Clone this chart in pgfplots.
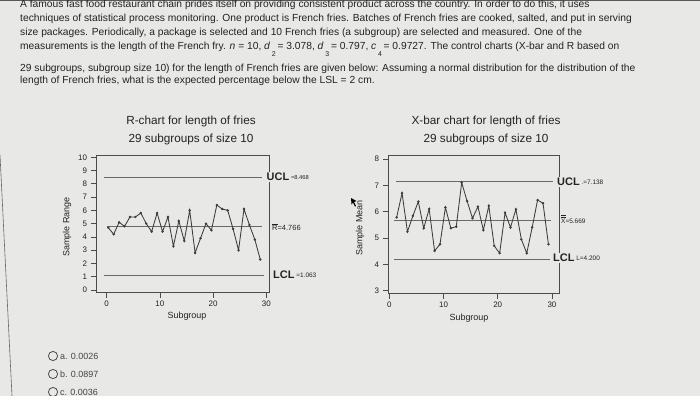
\documentclass[border=0pt]{standalone}
\usepackage{fontspec}
\setmainfont{Liberation Sans}
\usepackage{pgfplots}
\usepackage{pgfplotstable}
\pgfplotsset{compat=1.18}
\definecolor{bg}{RGB}{232,232,230}
\definecolor{txt}{RGB}{35,35,35}
\definecolor{dat}{RGB}{60,60,60}
\definecolor{ctl}{RGB}{105,105,105}
\definecolor{frm}{RGB}{75,75,75}

\pgfplotstableread{
x y
0.30 4.7
1.32 4.2
2.34 5.1
3.36 4.8
4.38 5.5
5.40 5.5
6.42 5.8
7.44 5.0
8.46 4.4
9.48 5.8
10.50 4.4
11.52 5.5
12.54 3.3
13.56 5.2
14.58 3.7
15.60 6.0
16.62 2.8
17.64 3.9
18.66 5.0
19.68 4.5
20.70 6.4
21.72 6.1
22.74 6.0
23.76 4.6
24.78 3.0
25.80 6.1
26.82 4.9
27.84 3.8
28.86 2.3
}\rdata

\pgfplotstableread{
x y
1.35 5.78
2.35 6.70
3.35 5.24
4.35 5.84
5.35 6.38
6.35 5.37
7.35 6.10
8.35 4.51
9.35 4.76
10.35 6.16
11.35 5.37
12.35 5.43
13.35 7.10
14.35 6.40
15.35 5.75
16.35 6.19
17.35 5.30
18.35 6.22
19.35 4.70
20.35 4.42
21.35 5.96
22.35 5.40
23.35 6.09
24.35 4.95
25.35 4.42
26.35 5.40
27.35 6.44
28.35 6.32
29.35 4.76
}\xdata

\pgfplotsset{
  ccstyle/.style={
    scale only axis, anchor=south west, clip=false,
    axis line style={frm, line width=0.7bp},
    every tick/.style={frm, line width=0.7bp},
    tick align=outside, tick pos=left, major tick length=5.5bp,
    ticklabel style={font=\fontsize{8}{9}\selectfont, text=txt},
    /pgf/number format/assume math mode=true,
    xtick={0,10,20,30},
  }
}

\newcommand{\para}[2]{\node[anchor=base west, inner sep=0pt, text=txt, font=\fontsize{10.3}{12}\selectfont] at (20bp,-#1bp) {#2};}

\begin{document}
\begin{tikzpicture}
\useasboundingbox (0,0) rectangle (700bp,-396bp);
\clip (0,0) rectangle (700bp,-396bp);
\fill[bg] (0,0) rectangle (700bp,-396bp);
\draw[gray!70!black, line width=0.8bp] (0,-0.4bp) -- (700bp,-0.4bp);
\draw[gray!80!black, line width=0.6bp] (0,-155bp) -- (12bp,-396bp);

% question text
\para{7.5}{A famous fast food restaurant chain prides itself on providing consistent product across the country. In order to do this, it uses}
\para{21.5}{techniques of statistical process monitoring. One product is French fries. Batches of French fries are cooked, salted, and put in serving}
\para{35}{size packages. Periodically, a package is selected and 10 French fries (a subgroup) are selected and measured. One of the}
\para{49.3}{measurements is the length of the French fry. \textit{n} = 10, \textit{d}\,\raisebox{-7.5bp}{\fontsize{7}{7}\selectfont 2}\,= 3.078, \textit{d}\,\raisebox{-7.5bp}{\fontsize{7}{7}\selectfont 3}\,= 0.797, \textit{c}\,\raisebox{-7.5bp}{\fontsize{7}{7}\selectfont 4}\,= 0.9727. The control charts (X-bar and R based on}
\para{71.5}{29 subgroups, subgroup size 10) for the length of French fries are given below: Assuming a normal distribution for the distribution of the}
\para{83.5}{length of French fries, what is the expected percentage below the LSL = 2 cm.}

% titles
\node[text=txt, font=\fontsize{11.8}{13}\selectfont, inner sep=0pt] at (191bp,-121bp) {R-chart for length of fries};
\node[text=txt, font=\fontsize{11.8}{13}\selectfont, inner sep=0pt] at (191bp,-139bp) {29 subgroups of size 10};
\node[text=txt, font=\fontsize{11.8}{13}\selectfont, inner sep=0pt] at (486bp,-121bp) {X-bar chart for length of fries};
\node[text=txt, font=\fontsize{11.8}{13}\selectfont, inner sep=0pt] at (486bp,-139bp) {29 subgroups of size 10};

% R chart
\begin{axis}[ccstyle, at={(96bp,-292bp)}, width=173bp, height=137bp,
  xmin=-2, xmax=30.5, ymin=-0.15, ymax=10.17, ytick={0,1,...,10}]
\addplot[ctl, line width=0.9bp] coordinates {(-0.5,8.468) (29.2,8.468)};
\addplot[ctl, line width=0.9bp] coordinates {(0.1,4.766) (29.2,4.766)};
\addplot[ctl, line width=0.9bp] coordinates {(-0.5,1.063) (29.6,1.063)};
\addplot[dat, line width=0.85bp, mark=*, mark size=0.75bp, mark options={fill=dat}] table {\rdata};
\end{axis}

% X-bar chart
\begin{axis}[ccstyle, at={(388bp,-293bp)}, width=171bp, height=138bp,
  xmin=-0.24, xmax=31.3, ymin=2.91, ymax=8.15, ytick={3,4,...,8}]
\addplot[ctl, line width=0.9bp] coordinates {(1.2,7.138) (30.2,7.138)};
\addplot[ctl, line width=0.9bp] coordinates {(0.9,5.669) (29.9,5.669)};
\addplot[ctl, line width=0.9bp] coordinates {(0.9,4.200) (29.6,4.200)};
\addplot[dat, line width=0.85bp, mark=*, mark size=0.75bp, mark options={fill=dat}] table {\xdata};
\end{axis}

% axis labels
\node[text=txt, font=\fontsize{9}{10}\selectfont, inner sep=0pt] at (187bp,-316bp) {Subgroup};
\node[text=txt, font=\fontsize{9}{10}\selectfont, inner sep=0pt] at (469bp,-318bp) {Subgroup};
\node[text=txt, font=\fontsize{9}{10}\selectfont, inner sep=0pt, rotate=90] at (67bp,-227bp) {Sample Range};
\node[text=txt, font=\fontsize{9}{10}\selectfont, inner sep=0pt, rotate=90] at (360bp,-228bp) {Sample Mean};

% control limit labels
\node[anchor=west, fill=bg, inner sep=1pt, text=txt] at (265.5bp,-177bp) {\fontsize{11}{12}\selectfont\bfseries UCL\,\raisebox{1.5bp}{\fontsize{5.8}{6}\selectfont\mdseries =8.468}};
\node[anchor=west, inner sep=0pt, text=txt] at (272bp,-227bp) {\fontsize{7.5}{8}\selectfont $\overline{\mbox{R}}$=4.766};
\node[anchor=west, fill=bg, inner sep=1pt, text=txt] at (272bp,-275bp) {\fontsize{11}{12}\selectfont\bfseries LCL\,\raisebox{1.5bp}{\fontsize{6.5}{7}\selectfont\mdseries =1.063}};

\node[anchor=west, fill=bg, inner sep=1pt, text=txt] at (556bp,-182bp) {\fontsize{11}{12}\selectfont\bfseries UCL\,\raisebox{1.5bp}{\fontsize{6.5}{7}\selectfont\mdseries .=7.138}};
\node[anchor=west, inner sep=0pt, text=txt] at (561bp,-219bp) {\fontsize{6.5}{7}\selectfont $\overline{\overline{\mbox{X}}}$=5.669};
\node[anchor=west, fill=bg, inner sep=1pt, text=txt] at (552bp,-258bp) {\fontsize{11}{12}\selectfont\bfseries LCL\,\raisebox{1.5bp}{\fontsize{6.5}{7}\selectfont\mdseries L=4.200}};

% mouse cursor
\fill[black] (351bp,-198bp) -- (356.5bp,-201bp) -- (354bp,-202bp) -- (356bp,-206bp) -- (355bp,-206.6bp) -- (353bp,-202.6bp) -- (351.5bp,-204.5bp) -- cycle;

% answer options
\foreach \yy/\tt in {356/{a. 0.0026}, 374/{b. 0.0897}, 392/{c. 0.0036}} {
  \draw[gray!60!black, line width=0.8bp] (53bp,-\yy bp) circle (4.6bp);
  \node[anchor=west, inner sep=0pt, text=txt!85!white, font=\fontsize{9}{10}\selectfont] at (60bp,-\yy bp) {\tt};
}
\end{tikzpicture}
\end{document}
